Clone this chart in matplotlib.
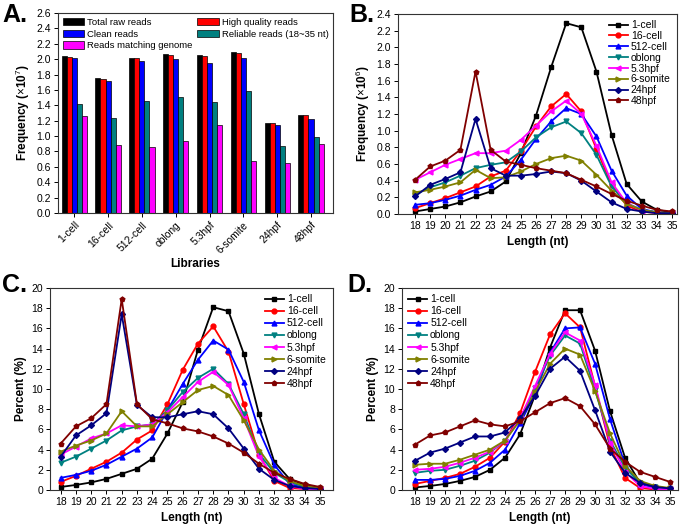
import numpy as np
import matplotlib
matplotlib.use("Agg")
import matplotlib.pyplot as plt

plt.rcParams['font.family'] = ['Liberation Sans', 'DejaVu Sans']
plt.rcParams['mathtext.fontset'] = 'custom'
plt.rcParams['mathtext.rm'] = 'Liberation Sans'
plt.rcParams['mathtext.bf'] = 'Liberation Sans:bold'

# ---- data ----
libraries = ["1-cell", "16-cell", "512-cell", "oblong", "5.3hpf", "6-somite", "24hpf", "48hpf"]

# panel A (x10^7)
total_raw = [2.04, 1.75, 2.02, 2.07, 2.05, 2.09, 1.17, 1.28]
high_quality = [2.03, 1.74, 2.01, 2.06, 2.04, 2.08, 1.17, 1.27]
clean = [2.02, 1.72, 1.98, 2.00, 1.95, 2.01, 1.14, 1.22]
reliable = [1.42, 1.23, 1.46, 1.51, 1.44, 1.59, 0.87, 0.99]
genome = [1.26, 0.89, 0.86, 0.94, 1.15, 0.68, 0.65, 0.90]

lengths = list(range(18, 36))

# panel B (x10^6)
freqB = {
    "1-cell":   [0.03, 0.06, 0.09, 0.14, 0.21, 0.27, 0.39, 0.73, 1.18, 1.76, 2.29, 2.24, 1.71, 0.95, 0.36, 0.15, 0.05, 0.02],
    "16-cell":  [0.07, 0.13, 0.19, 0.26, 0.33, 0.45, 0.52, 0.76, 1.05, 1.29, 1.44, 1.23, 0.78, 0.35, 0.10, 0.03, 0.01, 0.01],
    "512-cell": [0.11, 0.13, 0.17, 0.22, 0.29, 0.35, 0.45, 0.65, 0.90, 1.11, 1.27, 1.20, 0.93, 0.52, 0.22, 0.06, 0.02, 0.01],
    "oblong":   [0.23, 0.32, 0.38, 0.46, 0.55, 0.59, 0.62, 0.75, 0.92, 1.04, 1.11, 0.97, 0.71, 0.33, 0.13, 0.05, 0.02, 0.01],
    "5.3hpf":   [0.41, 0.50, 0.59, 0.66, 0.73, 0.73, 0.76, 0.89, 1.06, 1.23, 1.36, 1.20, 0.82, 0.38, 0.13, 0.04, 0.01, 0.01],
    "6-somite": [0.26, 0.29, 0.33, 0.38, 0.53, 0.43, 0.44, 0.51, 0.60, 0.67, 0.70, 0.64, 0.47, 0.28, 0.12, 0.05, 0.02, 0.01],
    "24hpf":    [0.21, 0.35, 0.42, 0.50, 1.14, 0.55, 0.46, 0.46, 0.48, 0.51, 0.49, 0.40, 0.27, 0.14, 0.06, 0.03, 0.01, 0.01],
    "48hpf":    [0.41, 0.57, 0.64, 0.77, 1.71, 0.77, 0.63, 0.59, 0.55, 0.52, 0.49, 0.41, 0.33, 0.24, 0.16, 0.10, 0.05, 0.03],
}

# panel C (%)
pctC = {
    "1-cell":   [0.3, 0.5, 0.75, 1.1, 1.6, 2.1, 3.1, 5.6, 8.7, 13.9, 18.1, 17.7, 13.5, 7.5, 2.8, 1.1, 0.5, 0.2],
    "16-cell":  [0.8, 1.4, 2.1, 2.8, 3.7, 5.0, 5.9, 8.5, 11.9, 14.5, 16.2, 13.7, 8.5, 3.5, 0.9, 0.2, 0.1, 0.05],
    "512-cell": [1.2, 1.5, 1.9, 2.5, 3.3, 4.1, 5.2, 7.9, 10.5, 12.9, 14.8, 13.9, 10.7, 5.9, 2.5, 0.6, 0.2, 0.1],
    "oblong":   [2.7, 3.3, 4.1, 4.9, 5.9, 6.3, 6.5, 7.9, 9.7, 11.1, 12.0, 10.5, 7.5, 3.6, 1.7, 0.8, 0.3, 0.1],
    "5.3hpf":   [3.5, 4.3, 5.1, 5.6, 6.4, 6.3, 6.5, 7.7, 9.2, 10.7, 11.7, 10.4, 7.1, 3.3, 1.2, 0.4, 0.1, 0.1],
    "6-somite": [3.8, 4.4, 4.9, 5.6, 7.8, 6.3, 6.3, 7.5, 8.7, 9.9, 10.3, 9.4, 6.9, 4.0, 1.9, 0.9, 0.4, 0.2],
    "24hpf":    [3.3, 5.4, 6.4, 7.6, 17.4, 8.4, 7.2, 7.2, 7.5, 7.8, 7.5, 6.1, 4.1, 2.1, 1.0, 0.4, 0.2, 0.1],
    "48hpf":    [4.6, 6.3, 7.1, 8.5, 18.9, 8.5, 7.0, 6.6, 6.1, 5.8, 5.3, 4.6, 3.7, 2.6, 1.7, 1.1, 0.6, 0.3],
}

# panel D (%)
pctD = {
    "1-cell":   [0.25, 0.4, 0.6, 0.9, 1.3, 2.0, 3.2, 5.5, 9.4, 14.1, 17.8, 17.8, 13.8, 7.8, 3.2, 0.7, 0.3, 0.15],
    "16-cell":  [0.6, 0.9, 1.2, 1.6, 2.3, 3.2, 4.8, 7.6, 11.7, 15.4, 17.5, 16.1, 10.3, 4.3, 1.2, 0.2, 0.05, 0.02],
    "512-cell": [1.0, 1.0, 1.1, 1.4, 1.9, 2.7, 4.0, 6.6, 9.5, 13.6, 16.0, 16.1, 12.5, 7.0, 2.5, 0.6, 0.2, 0.1],
    "oblong":   [1.7, 1.9, 2.0, 2.4, 2.9, 3.7, 4.9, 7.0, 10.1, 13.3, 15.3, 14.5, 9.9, 4.9, 2.2, 0.7, 0.3, 0.1],
    "5.3hpf":   [2.0, 2.1, 2.3, 2.7, 3.2, 3.8, 4.9, 7.1, 10.3, 13.5, 15.6, 14.8, 10.4, 4.7, 1.8, 0.4, 0.1, 0.05],
    "6-somite": [2.5, 2.6, 2.6, 3.0, 3.5, 4.0, 4.9, 6.9, 9.7, 12.5, 14.0, 13.4, 9.8, 5.6, 2.4, 0.9, 0.4, 0.2],
    "24hpf":    [2.9, 3.7, 4.1, 4.7, 5.3, 5.3, 5.7, 7.1, 9.3, 12.0, 13.2, 11.8, 7.9, 3.8, 1.7, 0.7, 0.3, 0.15],
    "48hpf":    [4.5, 5.4, 5.7, 6.3, 6.9, 6.5, 6.3, 6.8, 7.7, 8.6, 9.1, 8.3, 6.5, 4.1, 2.8, 1.8, 1.3, 0.8],
}

line_colors = ["black", "#ff0000", "#0000ff", "#008080", "#ff00ff", "#808000", "#000080", "#800000"]
line_markers = ["s", "o", "^", "v", "<", ">", "D", "p"]

W, H = 685, 527
fig = plt.figure(figsize=(W / 100, H / 100), dpi=100)


def ax_px(l, t, r, b):
    return fig.add_axes([l / W, 1 - b / H, (r - l) / W, (b - t) / H])


def style_axes(ax):
    for s in ax.spines.values():
        s.set_linewidth(0.8)
        s.set_color("#333333")
    ax.tick_params(labelsize=7.5, length=3, width=0.7, direction="out", pad=2)


def line_panel(ax, data, ylim, yticks, ylabel, xlim, loc, spacing):
    for i, lib in enumerate(libraries):
        ms = 3.5 if line_markers[i] != "D" else 3.0
        ax.plot(lengths, data[lib], color=line_colors[i], marker=line_markers[i],
                markersize=ms, linewidth=1.3, label=lib)
    ax.set_xlim(*xlim)
    ax.set_ylim(*ylim)
    ax.set_xticks(lengths)
    ax.set_yticks(yticks)
    ax.set_ylabel(ylabel, fontsize=8.5, fontweight="bold", labelpad=3)
    ax.set_xlabel("Length (nt)", fontsize=8.5, fontweight="bold", labelpad=4)
    style_axes(ax)
    ax.legend(loc=loc, frameon=False, fontsize=7.5, handlelength=1.8,
              labelspacing=spacing, handletextpad=0.3, borderaxespad=0.3, borderpad=0.3)


# ---- panel A ----
axA = ax_px(58, 13, 333, 213)
x = np.arange(len(libraries))
bw = 0.15
series = [total_raw, high_quality, clean, reliable, genome]
names = ["Total raw reads", "High quality reads", "Clean reads",
         "Reliable reads (18~35 nt)", "Reads matching genome"]
bar_colors = ["black", "#ff0000", "#0000ff", "#008080", "#ff00ff"]
bars = []
for k in range(5):
    b = axA.bar(x + (k - 2) * bw, series[k], width=bw, color=bar_colors[k],
                edgecolor="black", linewidth=0.5, label=names[k])
    bars.append(b)
axA.set_xlim(-0.48, 7.65)
axA.set_ylim(0, 2.6)
axA.set_yticks(np.arange(0, 2.61, 0.2))
axA.set_yticklabels(["%.1f" % v for v in np.arange(0, 2.61, 0.2)])
axA.set_xticks(x)
axA.set_xticklabels(libraries, rotation=45, ha="right", rotation_mode="anchor")
axA.set_ylabel(r"Frequency ($\times$10$^{7}$)", fontsize=8.5, fontweight="bold", labelpad=3)
axA.set_xlabel("Libraries", fontsize=8.5, fontweight="bold", labelpad=2)
style_axes(axA)
order = [0, 2, 4, 1, 3]
axA.legend([bars[i] for i in order], [names[i] for i in order], ncol=2, loc="upper left",
           bbox_to_anchor=(0.0, 1.0), frameon=False, fontsize=6.8, handlelength=2.3,
           handleheight=0.85, labelspacing=0.3, handletextpad=0.3, columnspacing=0.5,
           borderaxespad=0.15, borderpad=0.35)

# ---- panel B ----
axB = ax_px(398, 14, 677, 214)
line_panel(axB, freqB, (0, 2.4), np.arange(0, 2.41, 0.2),
           r"Frequency ($\times$10$^{6}$)", (16.87, 35.33), "upper right", 0.08)
axB.set_yticklabels(["%.1f" % v for v in np.arange(0, 2.41, 0.2)])

# ---- panel C ----
axC = ax_px(50, 288, 333, 490)
line_panel(axC, pctC, (0, 20), np.arange(0, 21, 2), "Percent (%)", (17.3, 35.85), "upper right", 0.2)

# ---- panel D ----
axD = ax_px(402, 288, 678, 490)
line_panel(axD, pctD, (0, 20), np.arange(0, 21, 2), "Percent (%)", (17.13, 35.53), "upper left", 0.2)

# panel letters
for lbl, px, py in [("A.", 2, 22), ("B.", 349, 22), ("C.", 2, 292), ("D.", 347, 292)]:
    fig.text(px / W, 1 - py / H, lbl, fontsize=18, fontweight="bold", ha="left", va="baseline")

fig.savefig("out.png", dpi=100)
